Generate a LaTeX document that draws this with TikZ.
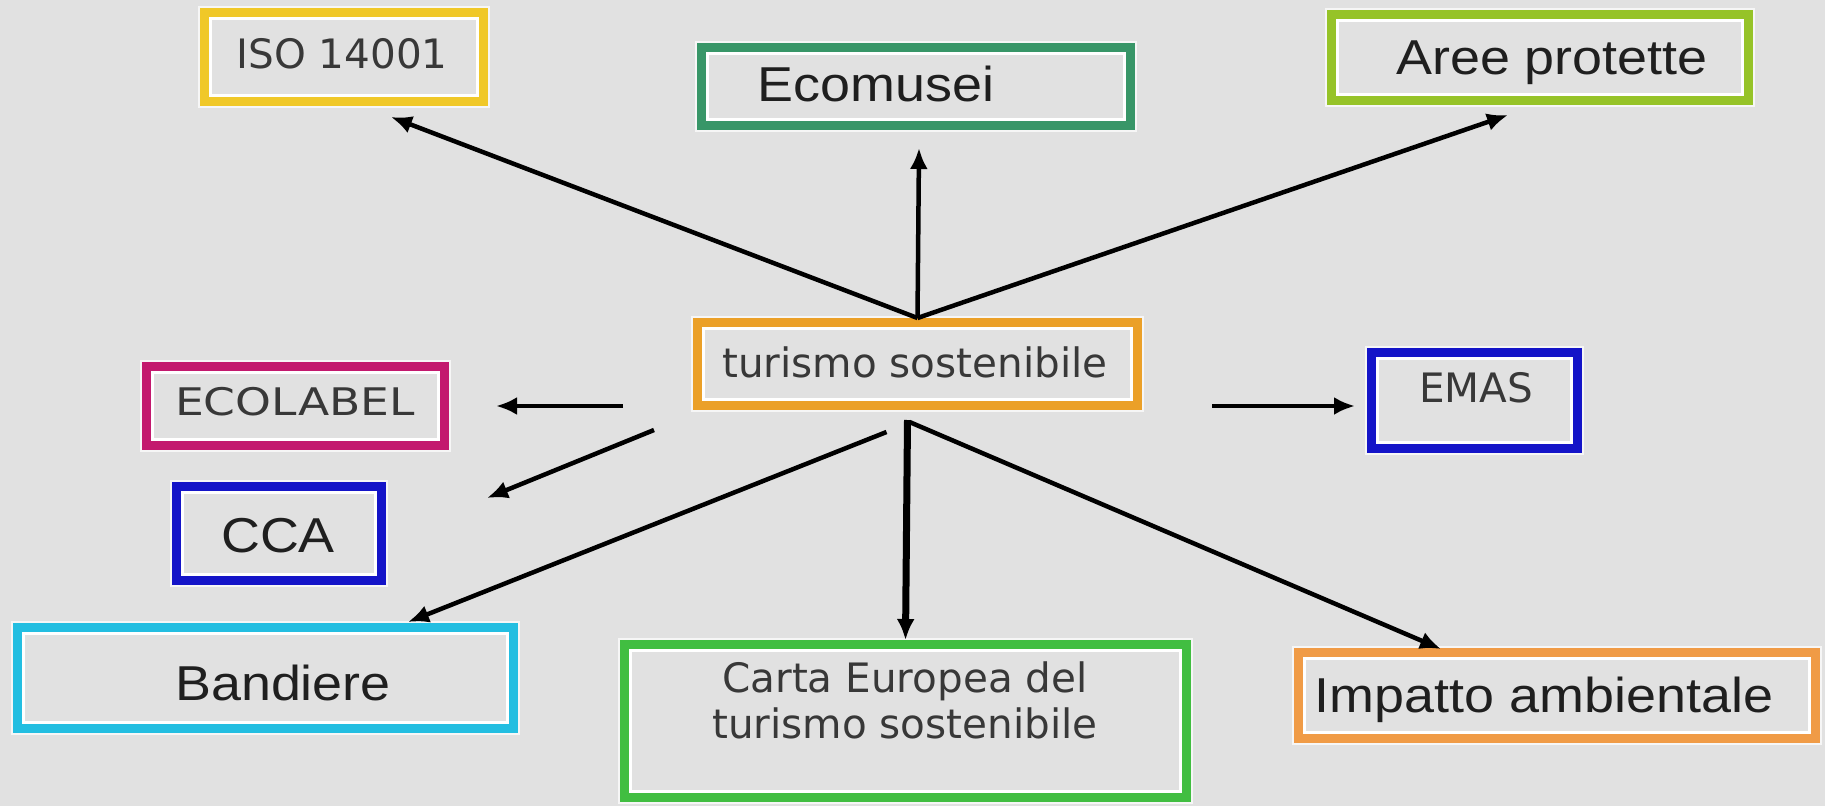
\documentclass[tikz,border=0pt]{standalone}
\usepackage{fontspec}
\newfontfamily\helv[FakeStretch=1.1]{Liberation Sans}
\newfontfamily\tah{DejaVu Sans}
\newfontfamily\tahwide[FakeStretch=1.2]{DejaVu Sans}
\usepackage{tikz}
\usetikzlibrary{arrows.meta,calc}
\definecolor{bgc}{RGB}{225,225,225}
\definecolor{isoyellow}{RGB}{240,200,40}
\definecolor{ecogreen}{RGB}{56,150,104}
\definecolor{areegreen}{RGB}{150,195,40}
\definecolor{turorange}{RGB}{235,160,40}
\definecolor{labelmag}{RGB}{195,25,110}
\definecolor{ccablue}{RGB}{20,20,200}
\definecolor{bandcyan}{RGB}{35,190,225}
\definecolor{cartagreen}{RGB}{65,190,65}
\definecolor{imporange}{RGB}{240,155,70}
\begin{document}
\begin{tikzpicture}[x=1pt,y=-1pt,
    tag/.style={draw=#1, fill=bgc, line width=9pt, inner sep=0pt,
      preaction={draw=white!70!bgc, line width=13pt},
      path picture={\draw[white, line width=3pt]
        ([shift={(6pt,6pt)}]path picture bounding box.south west) rectangle
        ([shift={(-6pt,-6pt)}]path picture bounding box.north east);}},
    arial/.style={inner sep=0pt, anchor=base, text=black!88, font=\fontsize{49}{55}\helv},
    tahoma/.style={inner sep=0pt, anchor=base, text=black!78, font=\fontsize{40.5}{46}\tah},
    arr/.style={line width=4.5pt, -{Latex[length=21pt,width=18pt]}}]
      \fill[bgc] (0,0) rectangle (1825,806);
      \useasboundingbox (0,0) rectangle (1825,806);

      %% boxes
      \node (iso) at (344,57) [tag=isoyellow, minimum width=279pt, minimum height=89pt] {};
      \node (ecomusei) at (916,86.5) [tag=ecogreen, minimum width=429pt, minimum height=78pt] {};
      \node (aree) at (1540,57.5) [tag=areegreen, minimum width=417pt, minimum height=86pt] {};
      \node (tur) at (917.5,364) [tag=turorange, minimum width=440pt, minimum height=83pt] {};
      \node (ecolabel) at (295.5,406) [tag=labelmag, minimum width=298pt, minimum height=79pt] {};
      \node (cca) at (279,533.5) [tag=ccablue, minimum width=205pt, minimum height=94pt] {};
      \node (emas) at (1474.5,400.5) [tag=ccablue, minimum width=206pt, minimum height=96pt] {};
      \node (band) at (265.5,678) [tag=bandcyan, minimum width=496pt, minimum height=101pt] {};
      \node (carta) at (905.5,721) [tag=cartagreen, minimum width=562pt, minimum height=153pt] {};
      \node (imp) at (1557,695.5) [tag=imporange, minimum width=517pt, minimum height=86pt] {};

      %% texts
      \node (isotxt) at (342,68) [tahoma] {ISO 14001};
      \node (ecomuseitxt) at (876,101) [arial] {Ecomusei};
      \node (areetxt) at (1552,74) [arial] {Aree protette};
      \node (turtxt) at (915,377) [tahoma] {turismo sostenibile};
      \node (ecolabeltxt) at (295,415) [tahoma, font=\fontsize{38}{44}\tahwide] {ECOLABEL};
      \node (ccatxt) at (278,552) [arial] {CCA};
      \node (emastxt) at (1476,402) [tahoma] {EMAS};
      \node (bandtxt) at (283,700) [arial] {Bandiere};
      \node (cartatxt) at (905,738) [tahoma, align=center] {Carta Europea del\\turismo sostenibile};
      \node (imptxt) at (1544,712) [arial] {Impatto ambientale};

      %% free ends of the arrows
      \coordinate (isotip) at ($(iso.south)+(47,11)$);
      \coordinate (ecomuseitip) at ($(ecomusei.south)+(3,18)$);
      \coordinate (areetip) at ($(aree.south)+(-32,10)$);
      \coordinate (ecolabelfrom) at ($(tur.west)+(-70,42)$);
      \coordinate (ecolabeltip) at ($(ecolabel.east)+(47,0)$);
      \coordinate (ccafrom) at ($(tur.south west)+(-39,20)$);
      \coordinate (ccatip) at ($(cca.east)+(101,-35.5)$);
      \coordinate (emasfrom) at ($(tur.east)+(70,42)$);
      \coordinate (emastip) at ($(emas.west)+(-12,5.5)$);
      \coordinate (bandfrom) at ($(tur.south)+(-31,22)$);
      \coordinate (bandtip) at ($(band.north)+(142.5,-1)$);
      \coordinate (cartafrom) at ($(tur.south)+(-10,10)$);
      \coordinate (impfrom) at ($(tur.south)+(-8,12)$);
      \coordinate (imptip) at ($(imp.north)+(-116,1)$);

      \draw[arr] (tur.north) -- (isotip);
      \draw[arr] (tur.north) -- (ecomuseitip);
      \draw[arr] (tur.north) -- (areetip);
      \draw[arr] (ecolabelfrom) -- (ecolabeltip);
      \draw[arr] (ccafrom) -- (ccatip);
      \draw[arr] (emasfrom) -- (emastip);
      \draw[arr] (bandfrom) -- (bandtip);
      \draw[arr, line width=7pt] (cartafrom) -- (carta.north);
      \draw[arr] (impfrom) -- (imptip);

\end{tikzpicture}
\end{document}
